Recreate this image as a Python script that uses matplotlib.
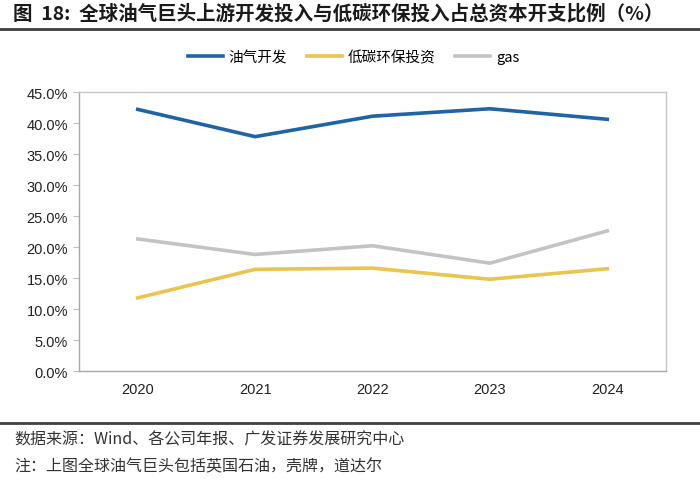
import matplotlib
matplotlib.use("Agg")
import matplotlib.pyplot as plt
from matplotlib.lines import Line2D

plt.rcParams['font.family'] = ['Liberation Sans', 'Noto Sans CJK SC', 'DejaVu Sans']

years = ["2020", "2021", "2022", "2023", "2024"]
oil_gas_dev = [42.2, 37.8, 41.1, 42.3, 40.6]
low_carbon = [11.8, 16.4, 16.6, 14.8, 16.5]
gas = [21.3, 18.8, 20.2, 17.4, 22.6]
series_names = ["油气开发", "低碳环保投资", "gas"]
yticks = [0, 5, 10, 15, 20, 25, 30, 35, 40, 45]

title = "图  18:  全球油气巨头上游开发投入与低碳环保投入占总资本开支比例（%）"
source = "数据来源：Wind、各公司年报、广发证券发展研究中心"
note = "注：上图全球油气巨头包括英国石油，壳牌，道达尔"

colors = ["#1F64A5", "#E9C44E", "#C3C3C3"]

fig = plt.figure(figsize=(7.0, 4.81), dpi=100)
fig.patch.set_facecolor("white")

cjk = ['Noto Sans CJK SC', 'DejaVu Sans']
fig.text(0.018, 0.971, title, fontsize=14, fontweight='bold', color="#1a1a1a",
         family=cjk, va='center', ha='left')
fig.add_artist(Line2D([0.0, 1.0], [0.938, 0.938], color="#404040", lw=2.0,
                      transform=fig.transFigure))
fig.add_artist(Line2D([0.0, 1.0], [0.119, 0.119], color="#404040", lw=2.0,
                      transform=fig.transFigure))
fig.text(0.02, 0.085, source, fontsize=11.5, color="#333333", family=cjk,
         va='center', ha='left')
fig.text(0.02, 0.030, note, fontsize=11.5, color="#333333", family=cjk,
         va='center', ha='left')

ax = fig.add_axes([0.1129, 0.2266, 0.8385, 0.580])
x = list(range(len(years)))
for vals, c, name in zip([oil_gas_dev, low_carbon, gas], colors, series_names):
    ax.plot(x, [v / 100 for v in vals], color=c, lw=2.6, label=name,
            solid_joinstyle='miter')

ax.set_xlim(-0.5, len(years) - 0.5)
ax.set_ylim(0, 0.45)
ax.set_yticks([t / 100 for t in yticks])
ax.set_yticklabels([f"{t:.1f}%" for t in yticks], fontsize=10.5, color="#222222")
ax.set_xticks(x)
ax.set_xticklabels(years, fontsize=10.5, color="#222222")
ax.tick_params(axis='y', length=4, color="#BFBFBF", pad=4)
ax.tick_params(axis='x', length=0, pad=8)
for s in ax.spines.values():
    s.set_color("#C8C8C8")
    s.set_linewidth(1.0)
ax.spines['left'].set_color("#A6A6A6")
ax.spines['bottom'].set_color("#A6A6A6")

leg = fig.legend(handles=ax.get_lines(), labels=series_names, loc='center',
                 bbox_to_anchor=(0.505, 0.879), ncol=3, frameon=False,
                 handlelength=2.4, columnspacing=1.35,
                 handletextpad=0.4, prop={'family': cjk, 'size': 10.5})

fig.savefig("out.png", dpi=100, facecolor="white")
